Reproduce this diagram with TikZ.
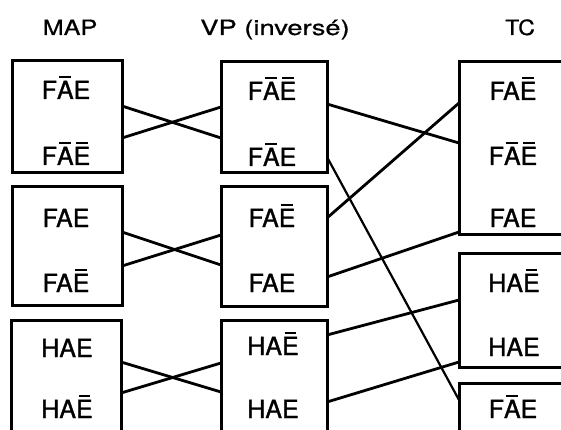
\documentclass[tikz,border=0pt]{standalone}
\usepackage{fontspec}
\setmainfont{TeX Gyre Heros}
\newfontfamily\lblfont[FakeBold=1.2]{TeX Gyre Heros}
\newfontfamily\headfont[FakeBold=0.6]{TeX Gyre Heros}
\usetikzlibrary{calc}
% letter with a short bar above it
\newcommand\barred[1]{\leavevmode\setbox0\hbox{#1}%
  \rlap{\hbox to \wd0{\hfil\raisebox{\dimexpr\ht0+2.5pt\relax}{\rule{0.7\wd0}{2.4pt}}\hfil}}\box0}
\begin{document}
\begin{tikzpicture}[x=1pt,y=-1pt,
  groupbox/.style={draw, rectangle, line width=3pt, inner sep=0pt, outer sep=0pt, anchor=north west},
  lbl/.style={font=\lblfont\fontsize{25}{25}\selectfont, anchor=base, inner sep=0pt},
  head/.style={font=\headfont\fontsize{21}{21}\selectfont, anchor=base, inner sep=0pt},
  link/.style={line width=2.8pt}]
\useasboundingbox (0,0) rectangle (561,430);
\fill[white] (0,0) rectangle (561,430);
\clip (0,0) rectangle (561,430);

% column headings
\node[head] (hmap) at (70,35) {\scalebox{1.2}[1]{MAP}};
\node[head] (hvp) at (275,35) {\scalebox{1.3}[1]{VP (inversé)}};
\node[head] (htc) at (520,35) {\scalebox{1.1}[1]{TC}};

% MAP column
\node[groupbox, minimum width=110pt, minimum height=112pt] (map1) at (12,61) {};
\node[groupbox, minimum width=110pt, minimum height=118pt] (map2) at (12,187) {};
\node[groupbox, minimum width=110pt, minimum height=140pt] (map3) at (11,320) {};
% VP column
\node[groupbox, minimum width=106pt, minimum height=111pt] (vp1) at (221,62) {};
\node[groupbox, minimum width=106pt, minimum height=119pt] (vp2) at (221,187) {};
\node[groupbox, minimum width=106pt, minimum height=140pt] (vp3) at (221,320) {};
% TC column
\node[groupbox, minimum width=140pt, minimum height=172pt] (tc1) at (459,62) {};
\node[groupbox, minimum width=140pt, minimum height=114pt] (tc2) at (459,253) {};
\node[groupbox, minimum width=140pt, minimum height=80pt] (tc3) at (459,383) {};

% labels
\node[lbl] (m1a) at (66,99)  {F\barred{A}E};
\node[lbl] (m1b) at (66,165) {F\barred{A}\barred{E}};
\node[lbl] (m2a) at (66,227) {FAE};
\node[lbl] (m2b) at (66,292) {FA\barred{E}};
\node[lbl] (m3a) at (67,357) {HAE};
\node[lbl] (m3b) at (67,418) {HA\barred{E}};

\node[lbl] (v1a) at (272,100) {F\barred{A}\barred{E}};
\node[lbl] (v1b) at (272,166) {F\barred{A}E};
\node[lbl] (v2a) at (272,227) {FA\barred{E}};
\node[lbl] (v2b) at (272,292) {FAE};
\node[lbl] (v3a) at (273,355) {HA\barred{E}};
\node[lbl] (v3b) at (273,418) {HAE};

\node[lbl] (t1a) at (513,100) {FA\barred{E}};
\node[lbl] (t1b) at (513,165) {F\barred{A}\barred{E}};
\node[lbl] (t1c) at (513,227) {FAE};
\node[lbl] (t2a) at (514,292) {HA\barred{E}};
\node[lbl] (t2b) at (514,356) {HAE};
\node[lbl] (t3a) at (513,418) {F\barred{A}E};

% MAP -> VP crossings
\draw[link] ($(map1.north east)+(0,45)$) -- ($(vp1.north west)+(0,76)$);
\draw[link] ($(map1.north east)+(0,77)$) -- ($(vp1.north west)+(0,45)$);
\draw[link] ($(map2.north east)+(0,45)$) -- ($(vp2.north west)+(0,78)$);
\draw[link] ($(map2.north east)+(0,79)$) -- ($(vp2.north west)+(0,48)$);
\draw[link] ($(map3.north east)+(0,42)$) -- ($(vp3.north west)+(0,72)$);
\draw[link] ($(map3.north east)+(0,73)$) -- ($(vp3.north west)+(0,43)$);

% VP -> TC links
\draw[link] ($(vp1.north east)+(0,42)$) -- ($(tc1.north west)+(0,81)$);
\draw[link, line width=2.2pt] ($(vp1.north east)+(0,95)$) -- ($(tc3.north west)+(0,17)$);
\draw[link] ($(vp2.north east)+(0,31)$) -- ($(tc1.north west)+(0,41)$);
\draw[link] ($(vp2.north east)+(0,90)$) -- ($(tc1.north west)+(0,170)$);
\draw[link] ($(vp3.north east)+(0,15)$) -- ($(tc2.north west)+(0,47)$);
\draw[link] ($(vp3.north east)+(0,82)$) -- ($(tc2.north west)+(0,109)$);
\end{tikzpicture}
\end{document}
